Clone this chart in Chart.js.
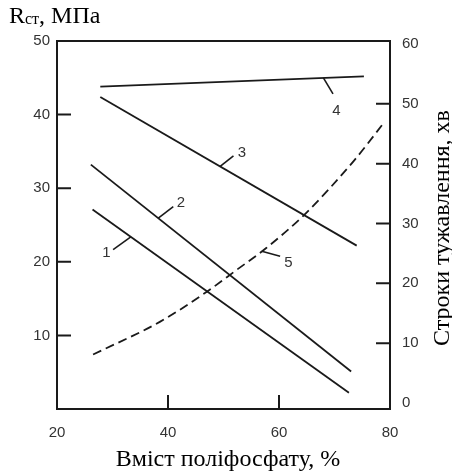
<!DOCTYPE html>
<html>
<head>
<meta charset="utf-8">
<script src="https://cdn.jsdelivr.net/npm/chart.js@4.4.1/dist/chart.umd.min.js"></script>
<style>
html, body { margin: 0; padding: 0; background: #fff; }
</style>
</head>
<body>
<canvas id="grafico" width="452" height="474"></canvas>
<script>
// Datos (x = contenido de polifosfato, %)
const x1 = [26.4, 72.6];
const y1 = [27.1, 2.2];
const x2 = [26.1, 73.0];
const y2 = [33.2, 5.1];
const x3 = [27.8, 74.0];
const y3 = [42.4, 22.2];
const x4 = [27.8, 75.3];
const y4 = [43.8, 45.2];
// curva 5 (eje derecho, tiempo de fraguado, min)
const x5 = [26.5, 38.6, 47.0, 52.3, 57.7, 64.6, 73.6, 78.7];
const y5 = [8.1, 13.6, 18.6, 22.2, 25.9, 31.5, 40.6, 46.6];

const ticksX = [20, 40, 60, 80];
const ticksIzq = [10, 20, 30, 40, 50];
const ticksDer = [0, 10, 20, 30, 40, 50, 60];

const tituloIzq = 'R';
const tituloIzqSub = 'ст';
const tituloIzqResto = ', МПа';
const tituloDer = 'Строки тужавлення, хв';
const tituloX = 'Вміст поліфосфату, %';

// marcas de las curvas: [número, serie, x del punto, dx, dy del fin, dx, dy del texto]
const marcas = [
    ['1', 0, 33.3, -17.7, 12.7, -24.3, 15.7],
    ['2', 1, 38.25, 15, -11.6, 22.7, -15],
    ['3', 2, 49.4, 13.3, -10.6, 21.7, -13.3],
    ['4', 3, 68.0, 9.6, 16, 13, 32.7],
    ['5', 4, 56.9, 18.3, 5, 26.6, 11.7]
];

const series = [[x1, y1], [x2, y2], [x3, y3], [x4, y4], [x5, y5]];

function puntos(xs, ys) {
    return xs.map((v, i) => ({ x: v, y: ys[i] }));
}

function interpolar(xs, ys, xv) {
    for (let i = 0; i < xs.length - 1; i++) {
        if (xv >= xs[i] && xv <= xs[i + 1]) {
            const t = (xv - xs[i]) / (xs[i + 1] - xs[i]);
            return ys[i] + t * (ys[i + 1] - ys[i]);
        }
    }
    return ys[ys.length - 1];
}

const negro = '#1a1a1a';
const fuenteSerif = '"Liberation Serif", "Times New Roman", serif';
const fuenteSans = '"Liberation Sans", Arial, sans-serif';

const marcoPlugin = {
    id: 'marco',
    afterDraw(chart) {
        const ctx = chart.ctx;
        const a = chart.chartArea;
        const sx = chart.scales.x, syL = chart.scales.yL, syR = chart.scales.yR;
        ctx.save();
        ctx.strokeStyle = negro;
        ctx.lineWidth = 2;
        ctx.strokeRect(a.left, a.top, a.right - a.left, a.bottom - a.top);

        // marcas hacia dentro
        ctx.beginPath();
        ticksX.forEach(v => {
            if (v > sx.min + 0.5 && v < sx.max - 0.5) {
                const p = sx.getPixelForValue(v);
                ctx.moveTo(p, a.bottom); ctx.lineTo(p, a.bottom - 14);
            }
        });
        ticksIzq.forEach(v => {
            if (v < syL.max) {
                const p = syL.getPixelForValue(v);
                ctx.moveTo(a.left, p); ctx.lineTo(a.left + 14, p);
            }
        });
        ticksDer.forEach(v => {
            if (v > 0 && v < 60) {
                const p = syR.getPixelForValue(v);
                ctx.moveTo(a.right, p); ctx.lineTo(a.right - 14, p);
            }
        });
        ctx.stroke();

        // números de las curvas
        ctx.lineWidth = 1.6;
        ctx.font = '15px ' + fuenteSans;
        ctx.fillStyle = '#333';
        ctx.textAlign = 'center';
        ctx.textBaseline = 'middle';
        marcas.forEach(m => {
            const s = series[m[1]];
            const escalaY = m[1] === 4 ? syR : syL;
            const px = sx.getPixelForValue(m[2]);
            const py = escalaY.getPixelForValue(interpolar(s[0], s[1], m[2]));
            ctx.beginPath();
            ctx.moveTo(px, py);
            ctx.lineTo(px + m[3], py + m[4]);
            ctx.stroke();
            ctx.fillText(m[0], px + m[5], py + m[6]);
        });

        // títulos
        ctx.fillStyle = '#000';
        ctx.textAlign = 'left';
        ctx.textBaseline = 'alphabetic';
        let xt = 9;
        ctx.font = '24px ' + fuenteSerif;
        ctx.fillText(tituloIzq, xt, 23);
        xt += ctx.measureText(tituloIzq).width;
        ctx.font = '16px ' + fuenteSerif;
        ctx.fillText(tituloIzqSub, xt, 24);
        xt += ctx.measureText(tituloIzqSub).width;
        ctx.font = '24px ' + fuenteSerif;
        ctx.fillText(tituloIzqResto, xt, 23);

        ctx.textAlign = 'center';
        ctx.fillText(tituloX, 228, 466);

        ctx.save();
        ctx.translate(449, 228);
        ctx.rotate(-Math.PI / 2);
        ctx.fillText(tituloDer, 0, 0);
        ctx.restore();

        ctx.restore();
    }
};

new Chart(document.getElementById('grafico'), {
    type: 'line',
    data: {
        datasets: series.map((s, i) => ({
            data: puntos(s[0], s[1]),
            yAxisID: i === 4 ? 'yR' : 'yL',
            borderColor: negro,
            borderWidth: 1.8,
            borderDash: i === 4 ? [9, 5] : [],
            pointRadius: 0,
            fill: false,
            cubicInterpolationMode: i === 4 ? 'monotone' : 'default',
            tension: 0
        }))
    },
    options: {
        responsive: false,
        animation: false,
        layout: { padding: { top: 41, left: 0, right: 0, bottom: 0 } },
        plugins: {
            legend: { display: false },
            tooltip: { enabled: false }
        },
        scales: {
            x: {
                type: 'linear',
                min: 20,
                max: 80,
                grid: { display: false, drawTicks: false },
                border: { display: false },
                afterBuildTicks: (scale) => { scale.ticks = ticksX.map(v => ({ value: v })); },
                afterFit: (scale) => { scale.height = 65; },
                ticks: { padding: 15, color: '#333', font: { family: fuenteSans, size: 15 } }
            },
            yL: {
                type: 'linear',
                position: 'left',
                min: 0,
                max: 50,
                grid: { display: false, drawTicks: false },
                border: { display: false },
                afterBuildTicks: (scale) => { scale.ticks = ticksIzq.map(v => ({ value: v })); },
                afterFit: (scale) => { scale.width = 57; },
                ticks: { padding: 7, color: '#333', font: { family: fuenteSans, size: 15 } }
            },
            yR: {
                type: 'linear',
                position: 'right',
                min: -1,
                max: 60.5,
                grid: { display: false, drawTicks: false },
                border: { display: false },
                afterBuildTicks: (scale) => { scale.ticks = ticksDer.map(v => ({ value: v })); },
                afterFit: (scale) => { scale.width = 62; },
                ticks: { padding: 12, color: '#333', font: { family: fuenteSans, size: 15 } }
            }
        }
    },
    plugins: [marcoPlugin]
});
</script>
</body>
</html>
